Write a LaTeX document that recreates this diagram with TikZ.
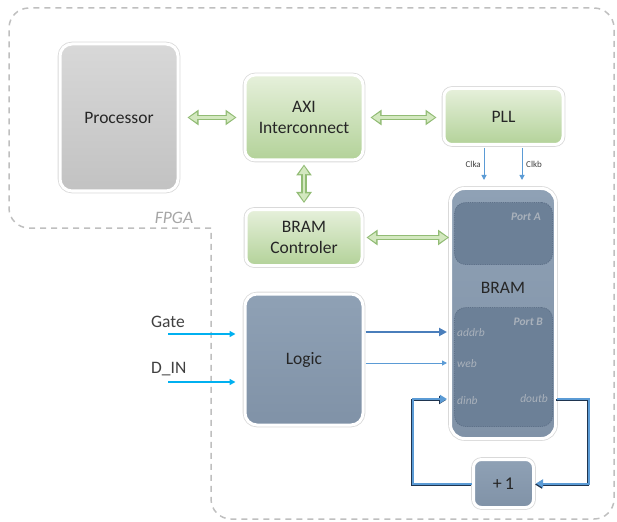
\documentclass[tikz,border=0pt]{standalone}
\usepackage{fontspec}
\setmainfont{Carlito}
\usetikzlibrary{arrows.meta,shadows,calc}
\definecolor{txt}{HTML}{262626}
\definecolor{labtxt}{HTML}{404040}
\definecolor{pTop}{HTML}{D8D8D8}
\definecolor{pBot}{HTML}{C2C2C2}
\definecolor{gTop}{HTML}{E6F0DB}
\definecolor{gBot}{HTML}{B3D299}
\definecolor{gDark}{HTML}{92BC75}
\definecolor{gLight}{HTML}{D3E8BF}
\definecolor{slTop}{HTML}{8FA1B5}
\definecolor{slBot}{HTML}{8092A7}
\definecolor{portc}{HTML}{6C8097}
\definecolor{portd}{HTML}{5E7189}
\definecolor{portTxt}{HTML}{A9B1BB}
\definecolor{bDark}{HTML}{4A7EBB}
\definecolor{bLight}{HTML}{5B9BD5}
\definecolor{bShadow}{HTML}{1F3550}
\definecolor{cyanA}{HTML}{00B0F0}
\definecolor{fpgaC}{HTML}{BFBFBF}
\definecolor{fpgaT}{HTML}{A6A6A6}
\newcommand\bxfont{\fontsize{17.5}{21}\selectfont}
\newcommand\smfont{\fontsize{11.5}{13}\selectfont}
\newcommand\clkfont{\fontsize{9}{10}\selectfont}
\tikzset{
  box/.style={rounded corners=10pt, draw=white, line width=3pt, inner sep=0pt,
    align=center, font=\bxfont, text=txt,
    drop shadow={shadow xshift=1pt, shadow yshift=-1.5pt, opacity=0.3, fill=black!70},
    preaction={draw=black!15, line width=4.6pt}},
  greenbox/.style={box, top color=gTop, bottom color=gBot},
  graybox/.style={box, top color=pTop, bottom color=pBot},
  slatebox/.style={box, top color=slTop, bottom color=slBot},
  portbox/.style={rounded corners=11pt, fill=portc, draw=portd, line width=0.8pt,
    dash pattern=on 1.2pt off 1pt},
  portlbl/.style={font=\smfont\itshape, text=portTxt, inner sep=0pt},
  gout/.style={draw=gDark, line width=5.5pt,
    {Triangle[length=11pt,width=15pt]}-{Triangle[length=11pt,width=15pt]}},
  gin/.style={draw=gLight, line width=2.8pt, shorten <=1.7pt, shorten >=1.7pt,
    {Triangle[length=8pt,width=10pt]}-{Triangle[length=8pt,width=10pt]}},
  bthick/.style={draw=bDark, line width=2.5pt, -{Triangle[length=8pt,width=8pt]}},
  bthin/.style={draw=bLight, line width=1pt, -{Triangle[length=5pt,width=5pt]}},
  cyanarrow/.style={draw=cyanA, line width=1.8pt, -{Triangle[length=6pt,width=6pt]}},
  clkarrow/.style={draw=bLight, line width=1pt, -{Triangle[length=5pt,width=5pt]}},
  loopline/.style={draw=bLight, line width=2pt, -{Triangle[length=7pt,width=8pt]}},
  loopshadow/.style={draw=bShadow, line width=2.4pt, -{Triangle[length=7pt,width=8pt]},
    transform canvas={xshift=-1pt, yshift=-1pt}},
  fpga/.style={draw=fpgaC, line width=1.5pt, dash pattern=on 6pt off 5pt, rounded corners=20pt}
}
\begin{document}
\begin{tikzpicture}[x=1pt,y=-1pt]
\useasboundingbox (0,0) rectangle (617,521);
% FPGA outline
\draw[fpga] (211,228) -- (9,228) -- (9,8) -- (614,8) -- (614,519) -- (211,519) -- (211,228);
\node[font=\bxfont\itshape, text=fpgaT, inner sep=0pt] (fpgaL) at (174,218) {FPGA};

% boxes
\node[graybox, rounded corners=12pt, minimum width=118pt, minimum height=147pt] (proc) at (119,117.5) {Processor};
\node[greenbox, minimum width=118pt, minimum height=85pt] (axi) at (304,117.5) {AXI\\Interconnect};
\node[greenbox, rounded corners=8pt, minimum width=119pt, minimum height=56pt] (pll) at (503.5,116.5) {PLL};
\node[greenbox, rounded corners=8pt, minimum width=116pt, minimum height=56pt] (ctrl) at (304,237.5) {BRAM\\Controler};
\node[slatebox, rounded corners=14pt, minimum width=105pt, minimum height=250pt] (bram) at (503,313.5) {};
\node[portbox, minimum width=98pt, minimum height=62pt] (porta) at (503.5,233.5) {};
\node[portbox, minimum width=98pt, minimum height=119pt] (portb) at (503.5,367) {};
\node[font=\bxfont, text=txt] (bramL) at (503,288) {BRAM};
\node[slatebox, rounded corners=12pt, minimum width=118pt, minimum height=131pt] (logic) at (304,359.5) {Logic};
\node[slatebox, rounded corners=8pt, minimum width=60pt, minimum height=48pt, font=\fontsize{18}{21}\selectfont] (plus) at (503.5,483.5) {+\,1};

% port labels
\node[portlbl, font=\smfont\itshape\bfseries, anchor=east] (paL) at (541,217) {Port A};
\node[portlbl, font=\smfont\itshape\bfseries, anchor=east] (pbL) at (543,322) {Port B};
\node[portlbl, anchor=west] (addrL) at (457,333) {addrb};
\node[portlbl, anchor=west] (webL) at (457,364) {web};
\node[portlbl, anchor=west] (dinL) at (457,401) {dinb};
\node[portlbl, anchor=east] (doutL) at (548,399) {doutb};

% green double arrows
\coordinate (p1) at ($(proc.east)+(8,0)$);
\coordinate (p2) at ($(proc.east -| axi.west)+(-7,0)$);
\draw[gout] (p1) -- (p2);
\draw[gin] (p1) -- (p2);
\coordinate (a1) at ($(axi.east)+(6,0)$);
\coordinate (a2) at ($(axi.east -| pll.west)+(-6,0)$);
\draw[gout] (a1) -- (a2);
\draw[gin] (a1) -- (a2);
\coordinate (v1) at ($(axi.south)+(0,3)$);
\coordinate (v2) at ($(ctrl.north)+(0,-5)$);
\draw[gout] (v1) -- (v2);
\draw[gin] (v1) -- (v2);
\coordinate (c1) at ($(ctrl.east)+(3,0)$);
\coordinate (c2) at ($(ctrl.east -| bram.west)+(0,0)$);
\draw[gout] (c1) -- (c2);
\draw[gin] (c1) -- (c2);

% clocks
\coordinate (ca) at (484,0);
\coordinate (cb) at (522,0);
\draw[clkarrow, shorten <=2pt, shorten >=7pt] (ca |- pll.south) -- (ca |- bram.north);
\draw[clkarrow, shorten <=2pt, shorten >=7pt] (cb |- pll.south) -- (cb |- bram.north);
\node[font=\clkfont, text=labtxt, anchor=east, inner sep=0pt] (clkaL) at (481,164) {Clka};
\node[font=\clkfont, text=labtxt, anchor=west, inner sep=0pt] (clkbL) at (526,164) {Clkb};

% inputs
\node[font=\bxfont, text=labtxt, anchor=west, inner sep=0pt] (gateL) at (151,322) {Gate};
\node[font=\bxfont, text=labtxt, anchor=west, inner sep=0pt] (dinLab) at (151,369) {D\_IN};
\coordinate (gs) at (168,334);
\coordinate (ds) at (168,382);
\draw[cyanarrow, shorten >=8pt] (gs) -- (gs -| logic.west);
\draw[cyanarrow, shorten >=8pt] (ds) -- (ds -| logic.west);

% logic to BRAM
\coordinate (ya) at (0,332);
\coordinate (yw) at (0,363);
\draw[bthick, shorten <=1pt, shorten >=2pt] (logic.east |- ya) -- (bram.west |- ya);
\draw[bthin, shorten <=1pt, shorten >=2pt] (logic.east |- yw) -- (bram.west |- yw);

% feedback loop
\coordinate (yd) at (0,399);
\coordinate (rx) at (589,0);
\coordinate (lx) at (413,0);
\draw[loopshadow, shorten >=1pt] (bram.east |- yd) -| (rx |- plus.east) -- (plus.east);
\draw[loopline, shorten >=1pt] (bram.east |- yd) -| (rx |- plus.east) -- (plus.east);
\draw[loopshadow, shorten >=2pt] (plus.west) -| (lx |- yd) -- (bram.west |- yd);
\draw[loopline, shorten >=2pt] (plus.west) -| (lx |- yd) -- (bram.west |- yd);
\end{tikzpicture}
\end{document}
